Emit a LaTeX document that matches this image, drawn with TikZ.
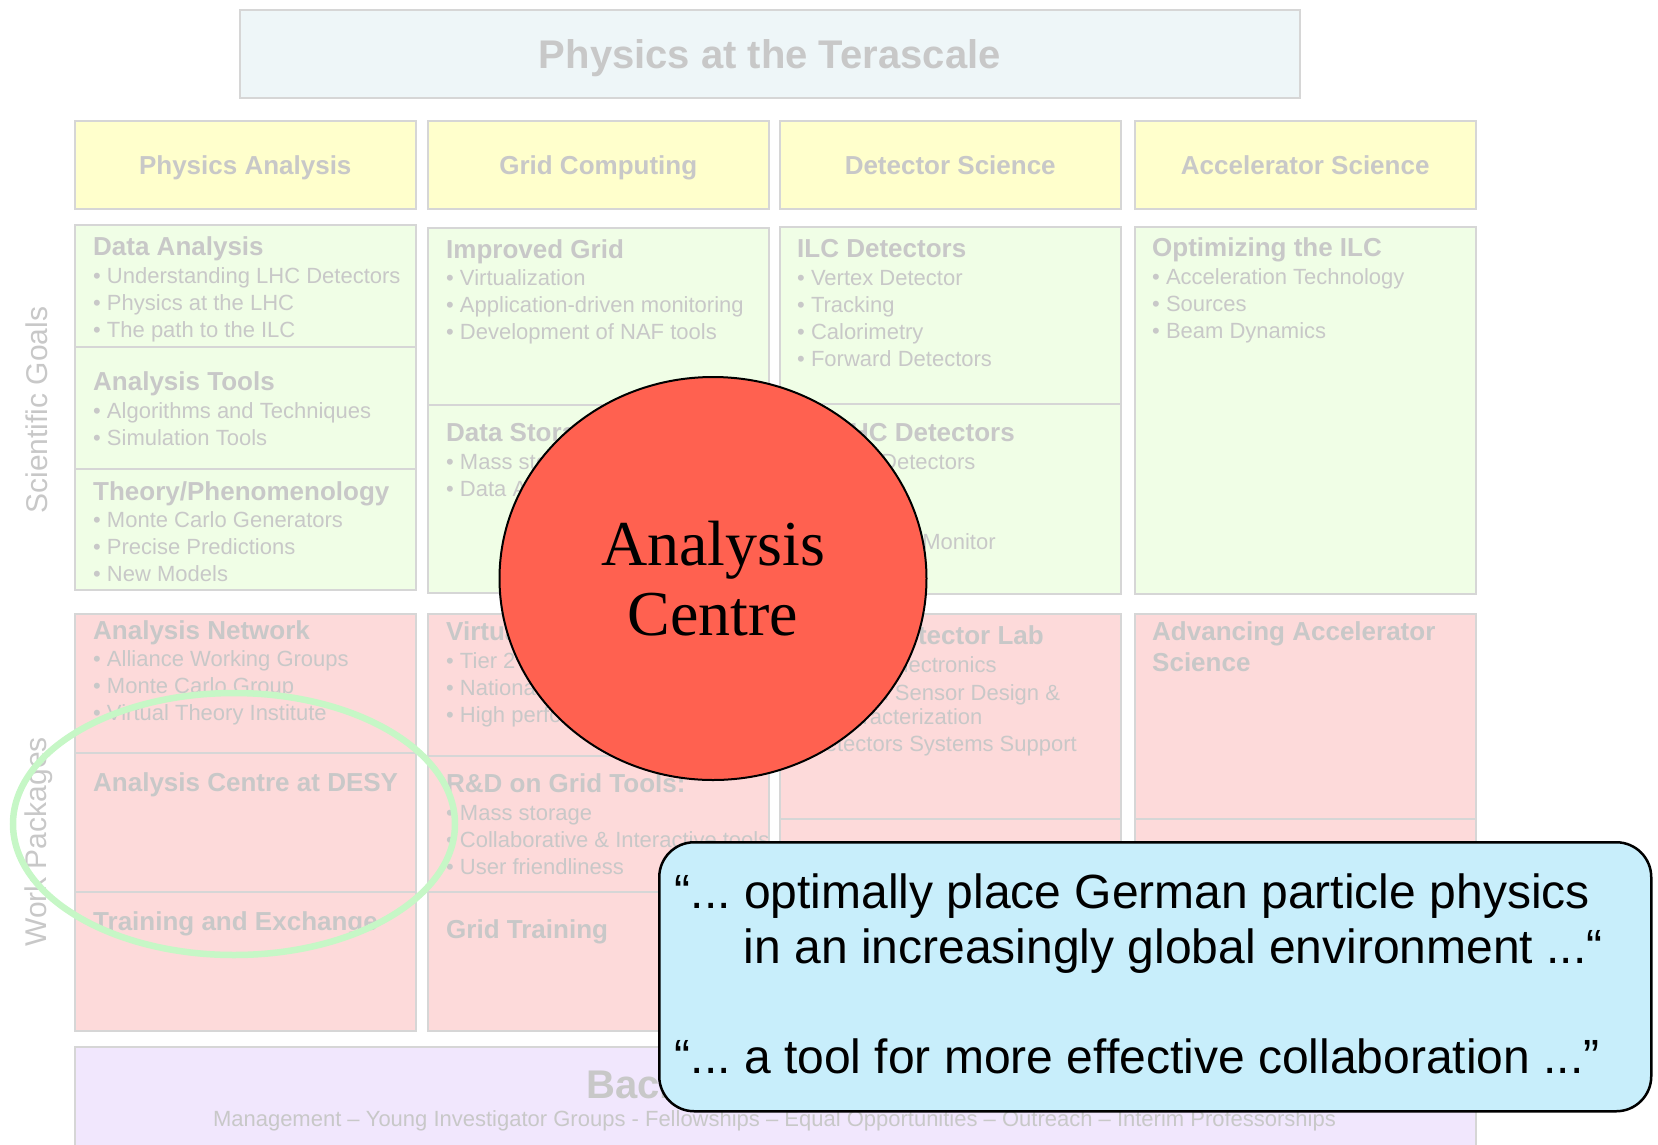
\documentclass[tikz,border=0pt]{standalone}
\usepackage{fontspec}
\setmainfont{Liberation Sans}
\newfontfamily\romanface{Liberation Serif}
\usetikzlibrary{shapes.geometric}
\frenchspacing

\definecolor{boxline}{HTML}{D6D6D6}
\definecolor{txtgray}{HTML}{C8C8C8}
\definecolor{titlefill}{HTML}{EEF6F8}
\definecolor{headfill}{HTML}{FFFFCC}
\definecolor{goalfill}{HTML}{F0FEE6}
\definecolor{workfill}{HTML}{FDDADA}
\definecolor{basefill}{HTML}{F1E7FD}
\definecolor{ringgreen}{HTML}{C6F7C6}
\definecolor{centrered}{HTML}{FF6150}
\definecolor{quotefill}{HTML}{C8EEFB}

\begin{document}
\begin{tikzpicture}[x=1pt,y=-1pt,
  panel/.style={draw=boxline,line width=1.5pt,anchor=north west,inner sep=0pt,minimum width=341pt},
  goalbox/.style={panel,fill=goalfill},
  workbox/.style={panel,fill=workfill},
  headbox/.style={panel,fill=headfill,minimum height=88pt,text=txtgray,text height=18.6pt,text depth=0pt,
    font=\bfseries\fontsize{26}{30}\selectfont},
  headtxt/.style={anchor=base west,inner sep=0pt,text=txtgray,font=\bfseries\fontsize{26}{30}\selectfont},
  itemtxt/.style={anchor=base west,inner sep=0pt,text=txtgray,font=\fontsize{22}{27}\selectfont},
  sidetxt/.style={rotate=90,inner sep=0pt,text=txtgray,font=\fontsize{30}{34}\selectfont},
  quotetxt/.style={anchor=base west,inner sep=0pt,font=\fontsize{48}{55}\selectfont}]
\useasboundingbox (0,0) rectangle (1658,1144);

\node[panel,fill=titlefill,minimum width=1060pt,minimum height=88pt,text=txtgray,text height=29pt,text depth=0pt,
  font=\bfseries\fontsize{40}{44}\selectfont] (title) at (239,9) {Physics at the Terascale};

\foreach \x/\t [count=\i] in {74/Physics Analysis,427/Grid Computing,779/Detector Science,1134/Accelerator Science}
  \node[headbox] (head\i) at (\x,120) {\t};

\node[sidetxt] (sgoals) at (37,410) {Scientific Goals};
\node[sidetxt] (wpacks) at (39,842) {Work Packages};

% scientific goals
\node[goalbox,minimum height=122pt] (dana) at (74,224) {};
\node[goalbox,minimum height=122pt] (atools) at (74,346) {};
\node[goalbox,minimum height=121pt] (theory) at (74,468) {};
\node[goalbox,minimum height=177pt] (igrid) at (427,227) {};
\node[goalbox,minimum height=188pt] (dstore) at (427,404) {};
\node[goalbox,minimum height=177pt] (ilcdet) at (779,226) {};
\node[goalbox,minimum height=190pt] (lhcdet) at (779,403) {};
\node[goalbox,minimum height=367pt] (optilc) at (1134,226) {};

\node[headtxt] (danaT) at (93,255) {Data Analysis};
\foreach \t [count=\i] in {Understanding LHC Detectors,Physics at the LHC,The path to the ILC}
  \node[itemtxt] (dana-\i) at (93,256+27*\i) {• \t};
\node[headtxt] (atoolsT) at (93,390) {Analysis Tools};
\foreach \t [count=\i] in {Algorithms and Techniques,Simulation Tools}
  \node[itemtxt] (atools-\i) at (93,391+27*\i) {• \t};
\node[headtxt] (theoryT) at (93,500) {Theory/Phenomenology};
\foreach \t [count=\i] in {Monte Carlo Generators,Precise Predictions,New Models}
  \node[itemtxt] (theory-\i) at (93,500+27*\i) {• \t};

\node[headtxt] (igridT) at (446,258.5) {Improved Grid};
\foreach \t [count=\i] in {Virtualization,Application-driven monitoring,Development of NAF tools}
  \node[itemtxt] (igrid-\i) at (446,258.5+27*\i) {• \t};
\node[headtxt] (dstoreT) at (446,441.5) {Data Storage};
\foreach \t [count=\i] in {Mass storage,Data Access}
  \node[itemtxt] (dstore-\i) at (446,442+27*\i) {• \t};

\node[headtxt] (ilcdetT) at (797,257.5) {ILC Detectors};
\foreach \t [count=\i] in {Vertex Detector,Tracking,Calorimetry,Forward Detectors}
  \node[itemtxt] (ilcdet-\i) at (797,258+27*\i) {• \t};
\node[headtxt] (lhcdetT) at (834,441.5) {LHC Detectors};
\node[itemtxt] (lhcdet-1) at (881,469) {Detectors};
\node[itemtxt] (lhcdet-4) at (797,549) {• Luminosity Monitor};

\node[headtxt] (optilcT) at (1152,256.5) {Optimizing the ILC};
\foreach \t [count=\i] in {Acceleration Technology,Sources,Beam Dynamics}
  \node[itemtxt] (optilc-\i) at (1152,257+27*\i) {• \t};

% work packages
\node[workbox,minimum height=139pt] (anet) at (74,613) {};
\node[workbox,minimum height=139pt] (adesy) at (74,752) {};
\node[workbox,minimum height=139pt] (train) at (74,891) {};
\node[workbox,minimum height=142pt] (vcomp) at (427,613) {};
\node[workbox,minimum height=136pt] (gtools) at (427,755) {};
\node[workbox,minimum height=139pt] (gtrain) at (427,891) {};
\node[workbox,minimum height=205pt] (dlab) at (779,613) {};
\node[workbox,minimum height=212pt] (dlab2) at (779,818) {};
\node[workbox,minimum height=205pt] (accel) at (1134,613) {};
\node[workbox,minimum height=212pt] (accel2) at (1134,818) {};

\node[headtxt] (anetT) at (93,639) {Analysis Network};
\foreach \t [count=\i] in {Alliance Working Groups,Monte Carlo Group,Virtual Theory Institute}
  \node[itemtxt] (anet-\i) at (93,639+27*\i) {• \t};
\node[headtxt] (adesyT) at (93,791.5) {Analysis Centre at DESY};
\node[headtxt] (trainT) at (93,930) {Training and Exchange};

\node[headtxt] (vcompT) at (446,640) {Virtual Computing};
\foreach \t [count=\i] in {Tier 2 Centres,National Analysis Facility,High performance computing}
  \node[itemtxt] (vcomp-\i) at (446,641+27*\i) {• \t};
\node[headtxt] (gtoolsT) at (446,792.5) {R\&D on Grid Tools:};
\foreach \t [count=\i] in {Mass storage,Collaborative \& Interactive tools,User friendliness}
  \node[itemtxt] (gtools-\i) at (446,793.5+27*\i) {• \t};
\node[headtxt] (gtrainT) at (446,938.5) {Grid Training};

\node[headtxt] (dlabT) at (797,644.5) {Virtual Detector Lab};
\node[itemtxt] (dlab-1) at (875,672.5) {• Electronics};
\node[itemtxt] (dlab-2) at (810,700) {• Silicon Sensor Design \&};
\node[itemtxt] (dlab-3) at (822,724.5) {Characterization};
\node[itemtxt] (dlab-4) at (795,751.5) {• Detectors Systems Support};

\node[headtxt] (accelT) at (1152,640) {Advancing Accelerator};
\node[headtxt] (accelT2) at (1152,671) {Science};

% backbone
\node[panel,fill=basefill,minimum width=1401pt,minimum height=120pt] (base) at (74,1046) {};
\node[headtxt,font=\bfseries\fontsize{40}{44}\selectfont] (baseT) at (586,1098) {Backbone};
\node[itemtxt,anchor=base] (baseL) at (774.5,1126)
  {Management – Young Investigator Groups - Fellowships – Equal Opportunities – Outreach – Interim Professorships};

% highlights
\node[ellipse,draw=ringgreen,line width=6.5pt,minimum width=442pt,minimum height=262pt] (ring) at (234,824) {};
\node[ellipse,draw,line width=2pt,fill=centrered,minimum width=427pt,minimum height=403pt,
  align=center,font=\romanface\fontsize{64}{70}\selectfont] (centre) at (713,578.5) {Analysis\\Centre};

\node[panel,draw=black,line width=2.5pt,fill=quotefill,rounded corners=35pt,
  minimum width=992pt,minimum height=269pt] (quote) at (658,841) {};
\node[quotetxt] (quote-1) at (674.6,908.3) {“... optimally place German particle physics};
\node[quotetxt] (quote-2) at (743.5,963.3) {in an increasingly global environment ...“};
\node[quotetxt] (quote-3) at (674.6,1073.3) {“... a tool for more effective collaboration ...”};
\end{tikzpicture}
\end{document}
